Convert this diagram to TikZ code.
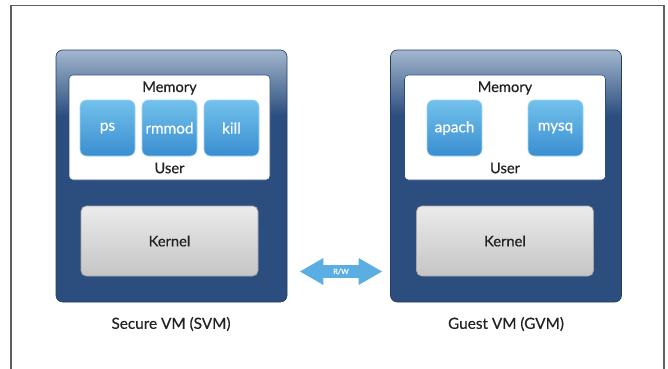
\documentclass[tikz,border=0pt]{standalone}
\usepackage{fontspec}
\setmainfont{Lato}[UprightFeatures={FakeBold=0.45}]
\usetikzlibrary{shapes.arrows}

\definecolor{vmdark}{HTML}{2C4E7F}
\definecolor{vmtop}{HTML}{A3B7CE}
\definecolor{proctop}{HTML}{72C2EC}
\definecolor{procbot}{HTML}{3A8DD0}
\definecolor{kerntop}{HTML}{EBEBEB}
\definecolor{kernbot}{HTML}{C5C5C5}
\definecolor{labeltext}{HTML}{222222}
\definecolor{rwblue}{HTML}{5AAEE2}

\pgfdeclareverticalshading{vmshading}{100bp}{color(0bp)=(vmdark); color(25bp)=(vmdark); color(62bp)=(vmdark); color(75bp)=(vmtop); color(100bp)=(vmtop)}

\tikzset{every picture/.style={line width=0.75pt}}
\tikzset{
  vmbox/.style={rounded corners=5pt, shading=vmshading, draw=vmdark!80!black, line width=0.5pt,
    minimum width=173.25pt, minimum height=189pt, inner sep=0pt},
  membox/.style={rounded corners=3pt, fill=white, draw=vmdark, line width=0.4pt,
    minimum width=150.75pt, minimum height=78.75pt, inner sep=0pt},
  procbox/.style={rounded corners=5pt, top color=proctop, bottom color=procbot, draw=proctop!70!white,
    line width=0.5pt, minimum width=41.25pt, minimum height=42pt, inner sep=0pt,
    text=white, font=\fontsize{11.5}{13}\selectfont},
  kernbox/.style={rounded corners=4pt, top color=kerntop, bottom color=kernbot, draw=gray!70,
    line width=0.5pt, minimum width=132.75pt, minimum height=52.5pt, inner sep=0pt,
    text=labeltext, font=\fontsize{11}{13}\selectfont},
  lbl/.style={text=labeltext, font=\fontsize{11}{13}\selectfont, inner sep=0pt},
  caption/.style={text=labeltext, font=\fontsize{11.5}{14}\selectfont, inner sep=0pt}
}

\begin{document}
\begin{tikzpicture}[x=0.75pt,y=0.75pt,yscale=-1,xscale=1]
		\useasboundingbox (0,0) rectangle (668,368);
		
		%Shape: Frame
		\draw [color=gray!75!black, line width=0.9pt]  (11,372) -- (11,5.5) -- (664,5.5) -- (664,372) ;
		
		%Shape: Secure VM
		\node [vmbox] (svm) at (171.5,176) {};
		\node [membox] (svmmem) at (169.5,127.5) {};
		\node [kernbox] (svmkern) at (169.5,241) {Kernel};
		% Text Node
		\node [lbl] (svmmemlbl) at (169.5,88) {Memory};
		\node [lbl] (svmuser) at (169.5,168) {User};
		%Shape: processes
		\node [procbox] (ps) at (107.5,128) {ps};
		\node [procbox] (rmmod) at (169.5,128) {rmmod};
		\node [procbox] (kill) at (231.5,128) {kill};
		
		%Shape: Guest VM
		\node [vmbox] (gvm) at (506,176) {};
		\node [membox] (gvmmem) at (505,127.5) {};
		\node [kernbox] (gvmkern) at (505,241) {Kernel};
		% Text Node
		\node [lbl] (gvmmemlbl) at (505,88) {Memory};
		\node [lbl] (gvmuser) at (505,168) {User};
		%Shape: processes
		\node [procbox] (apach) at (454.5,128) {apach};
		\node [procbox] (mysq) at (555.5,128) {mysq};
		
		%Shape: R/W arrow
		\node [double arrow, fill=rwblue, draw=none, double arrow tip angle=60, double arrow head extend=5.25pt,
		       minimum height=61.5pt, minimum width=20.25pt, inner xsep=2pt, inner ysep=2.2pt,
		       text=white, font=\fontsize{5.5}{6}\selectfont] (rw) at (341,271.5) {R/W};
		
		% Text Node
		\node [caption] (svmcap) at (171,324) {Secure VM (SVM)};
		\node [caption] (gvmcap) at (506,324) {Guest VM (GVM)};
		
\end{tikzpicture}
\end{document}
